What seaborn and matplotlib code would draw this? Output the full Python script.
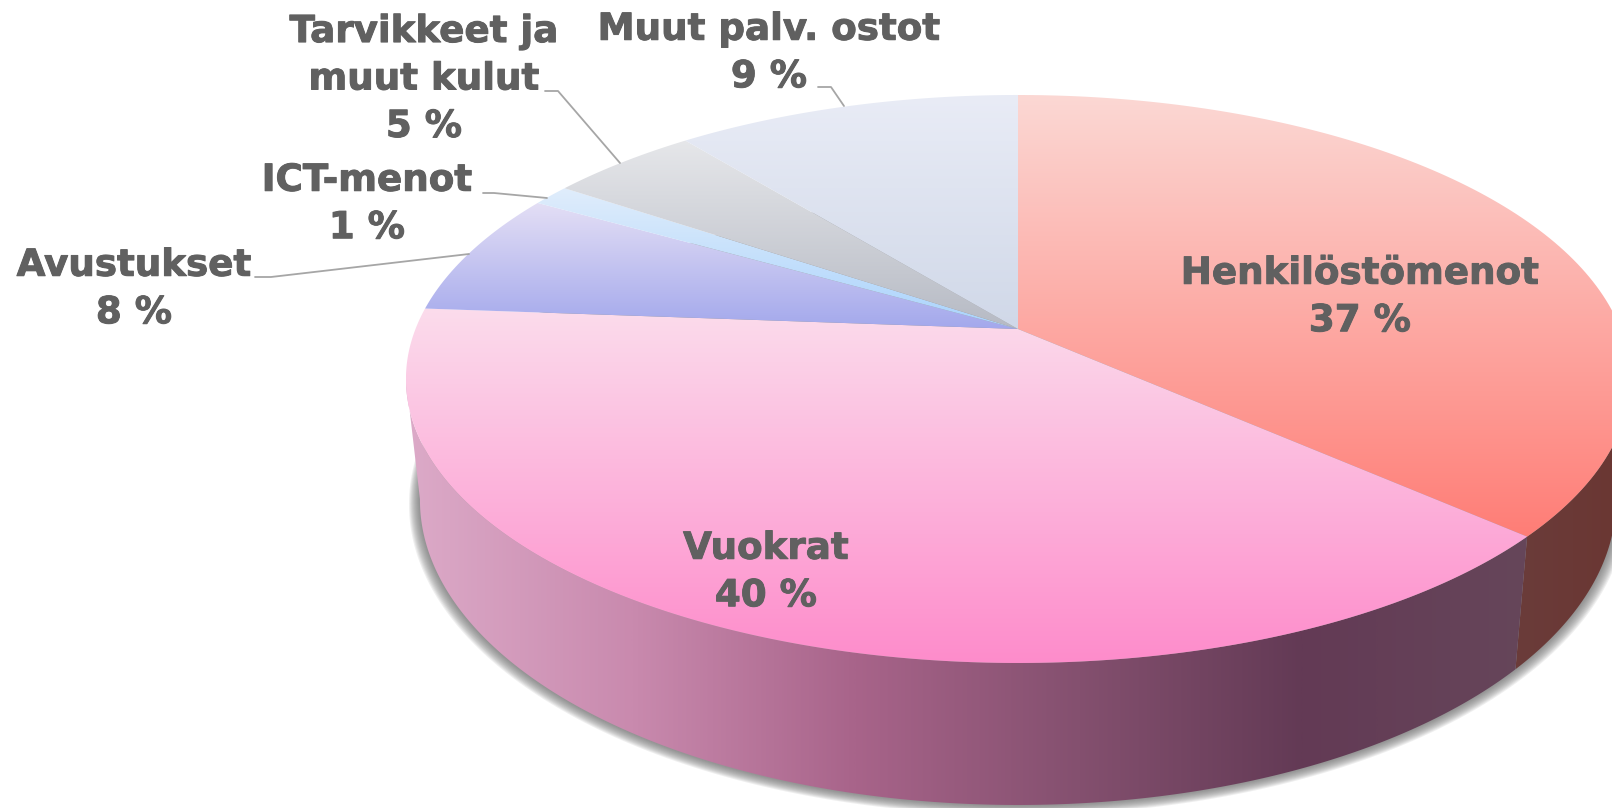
import numpy as np
import matplotlib
matplotlib.use("Agg")
import matplotlib.pyplot as plt
import matplotlib.patheffects as pe
from matplotlib.patches import Polygon
import seaborn as sns

categories = ["Henkilöstömenot", "Vuokrat", "Avustukset", "ICT-menot",
              "Tarvikkeet ja\nmuut kulut", "Muut palv. ostot"]
printed_percent = [37, 40, 8, 1, 5, 9]
# slice sizes as measured on the drawn pie (they differ a little from the printed labels)
drawn_share = [36.6, 39.6, 7.1, 1.2, 4.7, 10.8]

top_colors = [("#fbd8d4", "#ff7d76"), ("#fbdcec", "#fe8ccb"), ("#e4dff5", "#a3a8ec"),
              ("#e0edfb", "#a9d3fd"), ("#e6e7ea", "#b6bac4"), ("#e9ecf6", "#d0d8e8")]
wall_stops_main = ["#dcaac8", "#c98aae", "#a8648a", "#84506f", "#633a55", "#66465a"]
wall_stops_first = ["#6b3632", "#6a3c3a"]
text_color = "#606060"
leader_color = "#a6a6a6"

# layout, in image pixels
W, H = 1612, 808
CX, CY = 1018.0, 329.0
RX, RY, KP = 602.5, 275.2, 0.176
MID_Y = 379.0
TOP_A, TOP_B = 612.0, 284.0
BOT_A, BOT_B, BOT_Y = 598.0, 305.0, 500.0

label_xy = [(1360, 297), (766, 572), (134, 289), (367, 204), (424, 79), (769, 53)]
leaders = [None, None,
           [(255, 277), (271, 277), (469, 254)],
           [(483, 193), (494, 193), (547, 198)],
           [(545, 91), (558, 91), (620, 163)],
           [(818, 87), (831, 87), (844, 106)]]


def project(x, y):
    """unit-circle pie coordinates -> perspective image pixels"""
    w = 1 + KP * y
    return np.column_stack([CX + RX * x / w, CY - RY * y / w])


def to_bottom(p):
    return np.column_stack([CX + BOT_A / TOP_A * (p[:, 0] - CX),
                            BOT_Y + BOT_B / TOP_B * (p[:, 1] - MID_Y)])


def rim(a0, a1, n=300):
    t = np.radians(np.linspace(a0, a1, n))      # clockwise from top
    return project(np.sin(t), np.cos(t))


def gradient_fill(ax, verts, colors, horizontal=False, zorder=2):
    cmap = sns.blend_palette(colors, n_colors=256, as_cmap=True)
    patch = Polygon(verts, closed=True, fc="none", ec="none", transform=ax.transData)
    ax.add_patch(patch)
    g = np.linspace(0, 1, 512)
    x0, x1 = verts[:, 0].min(), verts[:, 0].max()
    y0, y1 = verts[:, 1].min(), verts[:, 1].max()
    img = g[None, :] if horizontal else g[:, None]
    im = ax.imshow(img, cmap=cmap, vmin=0, vmax=1, extent=(x0, x1, y1, y0),
                   origin="upper", aspect="auto", interpolation="bilinear", zorder=zorder)
    im.set_clip_path(patch)


sns.set_theme(style="white")
plt.rcParams["font.family"] = ["DejaVu Sans"]
fig = plt.figure(figsize=(W / 100, H / 100), dpi=100, facecolor="white")
ax = fig.add_axes([0, 0, 1, 1])

# pie wedges from the library; big radius so that arcs flatten finely
SCALE = 4000.0
wedges, _ = ax.pie(drawn_share, startangle=90, counterclock=False, radius=SCALE)
slices = []
for w in wedges:
    poly = w.get_path().to_polygons(w.get_patch_transform())[0] / SCALE
    w.remove()
    slices.append(project(poly[:, 0], poly[:, 1]))

edges = 360 * np.cumsum([0] + drawn_share) / sum(drawn_share)

# soft shadow under the side wall
full_bottom = to_bottom(rim(0, 360, 720))
for grow in range(11, 0, -1):
    c = np.array([CX, BOT_Y])
    d = full_bottom - c
    sh = c + d * (1 + grow / 600.0) + np.array([0, grow * 0.4])
    ax.add_patch(Polygon(sh, closed=True, fc="#707070", ec="none", alpha=0.11, zorder=1))

# side wall: first slice from the right tangent, second slice round to the left tangent
wall_a = rim(100, edges[1])
wall_b = rim(edges[1], 260)
for arc, stops in ((wall_a, wall_stops_first[::-1]), (wall_b, wall_stops_main)):
    verts = np.vstack([arc, to_bottom(arc)[::-1]])
    gradient_fill(ax, verts, stops, horizontal=True, zorder=2)

# top surface
for verts, cols in zip(slices, top_colors):
    gradient_fill(ax, verts, cols, zorder=3)

# leaders and labels
for pts in leaders:
    if pts is not None:
        xs, ys = zip(*pts)
        ax.plot(xs, ys, color=leader_color, lw=1.3, zorder=4, solid_capstyle="round")
for name, pct, (x, y) in zip(categories, printed_percent, label_xy):
    ax.text(x, y, f"{name}\n{pct} %", ha="center", va="center", color=text_color,
            fontsize=26.8, fontweight="bold", linespacing=1.36, zorder=5,
            path_effects=[pe.withStroke(linewidth=0.7, foreground=text_color)])

ax.set_aspect("auto")
ax.set_xlim(0, W)
ax.set_ylim(H, 0)
ax.axis("off")
fig.savefig("out.png", dpi=100, facecolor="white")
